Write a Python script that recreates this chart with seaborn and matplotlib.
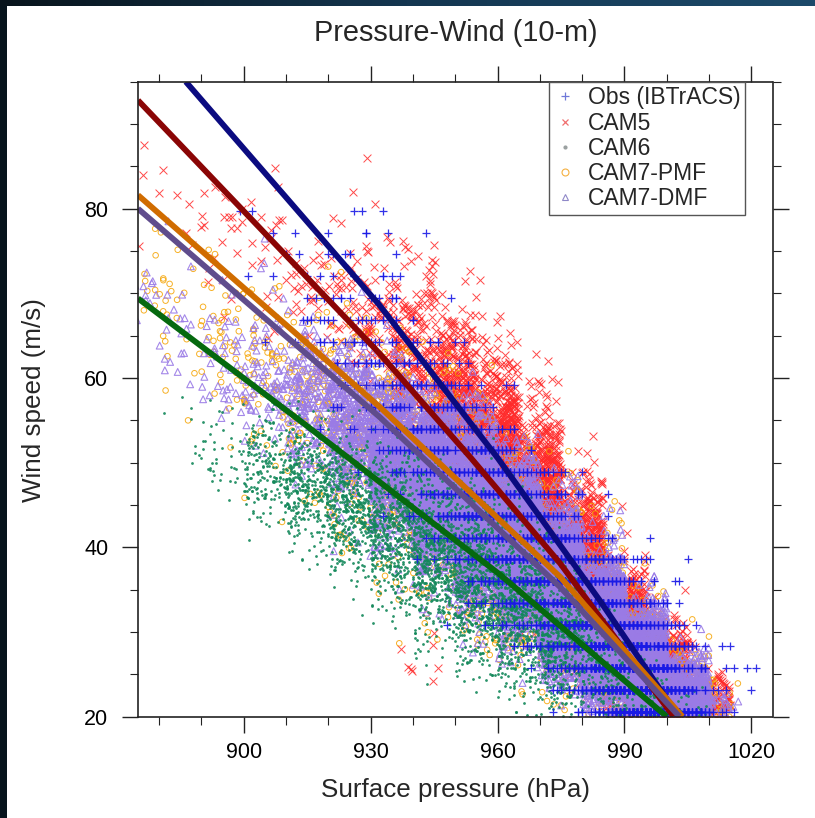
import numpy as np
import pandas as pd
import matplotlib
matplotlib.use("Agg")
import matplotlib.pyplot as plt
import seaborn as sns
from matplotlib.lines import Line2D
from matplotlib.patches import Rectangle
from matplotlib.ticker import MultipleLocator
from matplotlib.colors import LinearSegmentedColormap

sns.set_theme(style="ticks")
plt.rcParams['font.family'] = ['Liberation Sans', 'DejaVu Sans']

# ------------------------------------------------------------------
# Data
# ------------------------------------------------------------------
series_names = ["Obs (IBTrACS)", "CAM5", "CAM6", "CAM7-PMF", "CAM7-DMF"]

# fitted pressure-wind curves (pressure hPa, wind m/s)
obs_fit_p = [886.3, 932.1, 960.1, 984.2, 1002.8]
obs_fit_w = [95.0, 68.6, 50.5, 33.7, 20.0]
cam5_fit_p = [875.0, 932.1, 953.8, 974.8, 1001.6]
cam5_fit_w = [92.8, 62.9, 50.5, 38.1, 20.0]
cam6_fit_p = [875.0, 913.2, 960.5, 1000.0]
cam6_fit_w = [69.4, 55.0, 36.8, 20.0]
pmf_fit_p = [875.0, 932.1, 974.8, 1003.7]
pmf_fit_w = [81.6, 56.6, 36.5, 20.0]
dmf_fit_p = [875.0, 932.1, 974.8, 1003.0]
dmf_fit_w = [80.0, 55.4, 35.3, 20.0]

# Observations: winds come in 5-kt steps; pressure centre / spread / count per row
obs_wind_kt = [40, 45, 50, 55, 60, 65, 70, 75, 80, 85, 90, 95,
               100, 105, 110, 115, 120, 125, 130, 135, 140, 145, 150, 155]
obs_p_center = [997, 994, 991, 987, 983, 979, 975, 971, 966, 962, 958, 954,
                950, 946, 943, 939, 936, 932, 929, 925, 922, 920, 918, 915]
obs_p_std = [6.5, 7, 8, 8.5, 9.5, 10, 10, 10, 10, 10, 10, 10,
             9, 9, 9, 9, 9, 9, 10, 11, 11, 10, 12, 12]
obs_count = [420, 380, 330, 300, 270, 240, 210, 190, 170, 150, 130, 110,
             90, 75, 60, 48, 38, 28, 20, 15, 11, 8, 7, 5]

# Model clouds described per pressure bin: mean wind, wind spread, number of points
cam5_bin_p = [880, 890, 900, 910, 920, 930, 940, 950, 960, 970, 980, 990, 1000, 1010, 942]
cam5_w_mean = [82, 79, 76, 72, 69, 66, 62, 57, 51, 44, 37, 29.5, 24.5, 21.5, 26]
cam5_w_std = [3.5, 4, 5, 5, 5.5, 5.5, 5.5, 5.5, 5.5, 5.5, 5, 4, 3, 2.5, 4]
cam5_count = [6, 12, 18, 28, 45, 90, 240, 500, 800, 1000, 1000, 900, 650, 160, 8]

cam6_bin_p = [885, 895, 905, 915, 925, 935, 945, 955, 965, 975, 985, 995, 1005]
cam6_w_mean = [53, 51, 49.5, 47.5, 45, 42, 39, 36, 33, 29, 25, 22, 20.5]
cam6_w_std = [2.5, 3, 3.2, 3.6, 4, 4.5, 4.8, 5, 5, 4.5, 4, 3, 2]
cam6_count = [8, 45, 190, 360, 460, 540, 620, 640, 620, 500, 240, 90, 20]

pmf_bin_p = [878, 885, 895, 905, 915, 925, 935, 945, 955, 965, 975, 985, 995, 1005, 1012]
pmf_w_mean = [69, 67, 64, 61, 58, 55, 51, 47, 43, 39, 35, 31, 27, 23, 21]
pmf_w_std = [5, 5, 5.5, 6, 6.5, 6.5, 6.5, 6.5, 6.5, 6, 5.5, 5, 4, 3, 2]
pmf_count = [12, 20, 40, 60, 90, 140, 220, 300, 350, 350, 350, 330, 260, 150, 35]

dmf_bin_p = [878, 885, 895, 905, 915, 925, 935, 945, 955, 965, 975, 985, 995, 1005, 1012]
dmf_w_mean = [68, 66, 63, 60, 57.5, 54.5, 51, 47.5, 44, 40, 35, 30, 26, 22, 20.5]
dmf_w_std = [4, 4, 4.5, 4.5, 4.5, 4.5, 4.5, 4.5, 4.8, 4.5, 4.5, 4, 3.5, 2.5, 1.5]
dmf_count = [12, 20, 40, 80, 180, 400, 900, 1600, 2200, 2300, 2200, 1900, 1500, 700, 40]

x_ticks = [900, 930, 960, 990, 1020]
y_ticks = [20, 40, 60, 80]

# ------------------------------------------------------------------
# Expand the read cloud descriptions into point sets (fixed seed)
# ------------------------------------------------------------------
rng = np.random.default_rng(11)


def cloud(bin_p, w_mean, w_std, count, half=5.0):
    ps, ws = [], []
    for p0, m, s, n in zip(bin_p, w_mean, w_std, count):
        ps.append(rng.uniform(p0 - half, p0 + half, n))
        ws.append(rng.normal(m, s, n))
    return pd.DataFrame({"pressure": np.concatenate(ps), "wind": np.concatenate(ws)})


def obs_cloud():
    ps, ws = [], []
    for kt, pc, sd, n in zip(obs_wind_kt, obs_p_center, obs_p_std, obs_count):
        ps.append(np.round(rng.normal(pc, sd, n)))
        ws.append(np.full(n, kt * 0.514444))
    return pd.DataFrame({"pressure": np.concatenate(ps), "wind": np.concatenate(ws)})


df_cam5 = cloud(cam5_bin_p, cam5_w_mean, cam5_w_std, cam5_count)
df_cam6 = cloud(cam6_bin_p, cam6_w_mean, cam6_w_std, cam6_count)
df_pmf = cloud(pmf_bin_p, pmf_w_mean, pmf_w_std, pmf_count)
df_dmf = cloud(dmf_bin_p, dmf_w_mean, dmf_w_std, dmf_count)
df_obs = obs_cloud()

# ------------------------------------------------------------------
# Figure
# ------------------------------------------------------------------
W, H = 815, 818
fig = plt.figure(figsize=(W / 100, H / 100), dpi=100)
fig.patch.set_facecolor("white")

# dark frame strips (left and top) of the screenshot
fig.add_artist(Rectangle((0, 0), 7 / W, 1, transform=fig.transFigure,
                         facecolor="#07141d", edgecolor="none", zorder=0))
ax_bg = fig.add_axes([0, 1 - 6 / H, 1, 6 / H])
ax_bg.imshow(np.linspace(0, 1, 256)[None, :], aspect="auto",
             cmap=LinearSegmentedColormap.from_list("bg", ["#08141c", "#143650", "#1c4a6a"]))
ax_bg.axis("off")

ax_l, ax_r, ax_t, ax_b = 138, 772.5, 81.7, 716.6
ax = fig.add_axes([ax_l / W, 1 - ax_b / H, (ax_r - ax_l) / W, (ax_b - ax_t) / H])
ax.set_facecolor("white")

col_obs = "#1a1ae6"
col_cam5 = "#ff2a2a"
col_cam6 = "#13885a"
col_pmf = "#f5a300"
col_dmf = "#9a7be6"

sns.scatterplot(data=df_cam5, x="pressure", y="wind", marker="x", s=32,
                color=col_cam5, linewidth=0.7, alpha=0.85, ax=ax, legend=False, zorder=2)
sns.scatterplot(data=df_pmf, x="pressure", y="wind", marker="o", s=16,
                color=col_pmf, facecolor="none", edgecolor=col_pmf,
                linewidth=0.7, alpha=0.85, ax=ax, legend=False, zorder=3)
sns.scatterplot(data=df_dmf, x="pressure", y="wind", marker="^", s=24,
                color=col_dmf, facecolor="none", edgecolor=col_dmf,
                linewidth=0.8, alpha=0.9, ax=ax, legend=False, zorder=4)
sns.scatterplot(data=df_cam6, x="pressure", y="wind", marker="o", s=4,
                color=col_cam6, linewidth=0, alpha=0.9, ax=ax, legend=False, zorder=5)
sns.scatterplot(data=df_obs, x="pressure", y="wind", marker="+", s=40,
                color=col_obs, linewidth=0.9, alpha=0.9, ax=ax, legend=False, zorder=6)

fits = [
    (obs_fit_p, obs_fit_w, "#0b0b80"),
    (cam5_fit_p, cam5_fit_w, "#8a0505"),
    (cam6_fit_p, cam6_fit_w, "#05690f"),
    (pmf_fit_p, pmf_fit_w, "#d06c00"),
    (dmf_fit_p, dmf_fit_w, "#5f4c8c"),
]
for i, (fp, fw, c) in enumerate(fits):
    sns.lineplot(x=fp, y=fw, color=c, linewidth=4.2, sort=False, ax=ax,
                 legend=False, zorder=10 + i, solid_capstyle="butt")

ax.set_xlim(875, 1025)
ax.set_ylim(20, 95)
ax.set_xticks(x_ticks)
ax.set_yticks(y_ticks)
ax.xaxis.set_minor_locator(MultipleLocator(10))
ax.yaxis.set_minor_locator(MultipleLocator(5))
ax.tick_params(which="major", direction="out", length=11.5, width=1.0, color="#222222",
               top=True, right=True, labelsize=15.5, labelcolor="black")
ax.tick_params(axis="x", which="major", pad=7)
ax.tick_params(axis="y", which="major", pad=10)
ax.tick_params(which="minor", direction="out", length=5.8, width=0.8, color="#222222",
               top=True, right=True)
for sp in ax.spines.values():
    sp.set_visible(True)
    sp.set_color("#222222")
    sp.set_linewidth(1.2)
    sp.set_zorder(20)

ax.set_xlabel("Surface pressure (hPa)", fontsize=18.7)
ax.set_ylabel("Wind speed (m/s)", fontsize=18.7)
ax.xaxis.label.set_va("center")
ax.yaxis.label.set_va("center")
ax.xaxis.set_label_coords(0.5, (ax_b - 790) / (ax_b - ax_t))
ax.yaxis.set_label_coords((34 - ax_l) / (ax_r - ax_l), (ax_b - 400) / (ax_b - ax_t))

fig.text((ax_l + ax_r) / 2 / W, 1 - 33 / H, "Pressure-Wind (10-m)", fontsize=20.8,
         ha="center", va="center")

handles = [
    Line2D([], [], linestyle="none", marker="+", color="#6f78d8", markersize=6, markeredgewidth=0.9),
    Line2D([], [], linestyle="none", marker="x", color="#f07070", markersize=5, markeredgewidth=0.9),
    Line2D([], [], linestyle="none", marker="o", color="#9aa0a0", markersize=2),
    Line2D([], [], linestyle="none", marker="o", markerfacecolor="none", markeredgecolor="#f5b040",
           markersize=5, markeredgewidth=0.8),
    Line2D([], [], linestyle="none", marker="^", markerfacecolor="none", markeredgecolor="#8f88c8",
           markersize=5, markeredgewidth=0.8),
]
leg = ax.legend(handles, series_names, loc="upper right",
                bbox_to_anchor=((745 - ax_l) / (ax_r - ax_l), 1.0), borderaxespad=0,
                fontsize=16.5, frameon=True, fancybox=False, framealpha=1,
                edgecolor="#555555", handlelength=1.0, handletextpad=0.5,
                labelspacing=0.1, borderpad=0.2)
leg.get_frame().set_linewidth(1.0)
leg.set_zorder(30)

fig.savefig("out.png", dpi=100)
